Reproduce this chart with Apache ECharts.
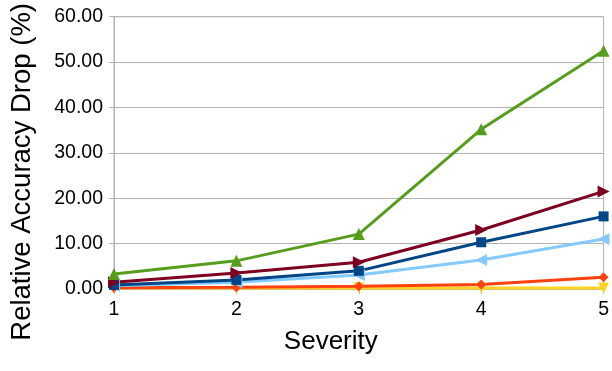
<!DOCTYPE html>
<html>
<head>
<meta charset="utf-8">
<script src="https://cdn.jsdelivr.net/npm/echarts@6/dist/echarts.min.js"></script>
<style>
html, body { margin: 0; padding: 0; background: #fff; }
#chart { width: 612px; height: 371px; }
</style>
</head>
<body>
<div id="chart"></div>
<script>
var severity = ['1', '2', '3', '4', '5'];
var greenSeries = [3.3, 6.2, 12.1, 35.2, 52.5];
var darkRedSeries = [1.5, 3.5, 5.9, 13.0, 21.5];
var blueSeries = [0.9, 2.0, 4.0, 10.3, 16.0];
var lightBlueSeries = [0.7, 1.5, 3.1, 6.4, 11.0];
var orangeSeries = [0.3, 0.4, 0.6, 1.0, 2.6];
var yellowSeries = [0.2, 0.2, 0.2, 0.2, 0.2];

var myChart = echarts.init(document.getElementById('chart'));

function makeLine(name, data, color, symbol, rotate, size) {
    return {
        name: name,
        type: 'line',
        data: data,
        symbol: symbol,
        symbolSize: size,
        symbolRotate: rotate,
        showSymbol: true,
        lineStyle: { color: color, width: 3 },
        itemStyle: { color: color },
        animation: false
    };
}

myChart.setOption({
    grid: {
        left: 114,
        right: 5,
        top: 16,
        bottom: 82,
        show: true,
        borderColor: '#b3b3b3',
        borderWidth: 1
    },
    xAxis: {
        type: 'category',
        data: severity,
        boundaryGap: false,
        name: 'Severity',
        nameLocation: 'middle',
        nameGap: 40,
        nameTextStyle: { fontFamily: 'Liberation Sans', fontSize: 26, color: '#000', padding: [0, 56, 0, 0] },
        axisLine: { lineStyle: { color: '#b3b3b3' } },
        axisTick: { show: true, length: 5, lineStyle: { color: '#b3b3b3' } },
        axisLabel: { fontFamily: 'Liberation Sans', fontSize: 19.5, color: '#000', margin: 11 },
        splitLine: { show: false }
    },
    yAxis: {
        type: 'value',
        min: 0,
        max: 60,
        interval: 10,
        name: 'Relative Accuracy Drop (%)',
        nameLocation: 'middle',
        nameGap: 78,
        nameTextStyle: { fontFamily: 'Liberation Sans', fontSize: 27.5, color: '#000', padding: [0, 38, 0, 0] },
        axisLine: { show: true, lineStyle: { color: '#b3b3b3' } },
        axisTick: { show: true, length: 5, lineStyle: { color: '#b3b3b3' } },
        axisLabel: {
            fontFamily: 'Liberation Sans', fontSize: 19.5, color: '#000', margin: 11,
            formatter: function (v) { return v.toFixed(2); }
        },
        splitLine: { show: true, lineStyle: { color: '#b3b3b3', width: 1 } }
    },
    series: [
        makeLine('yellow', yellowSeries, '#ffd320', 'triangle', 180, 11),
        makeLine('orange', orangeSeries, '#ff420e', 'diamond', 0, 10),
        makeLine('lightblue', lightBlueSeries, '#83caff', 'triangle', 90, 12),
        makeLine('blue', blueSeries, '#004586', 'rect', 0, 10),
        makeLine('darkred', darkRedSeries, '#7e0021', 'triangle', -90, 12),
        makeLine('green', greenSeries, '#579d1c', 'triangle', 0, 12)
    ]
});
</script>
</body>
</html>
